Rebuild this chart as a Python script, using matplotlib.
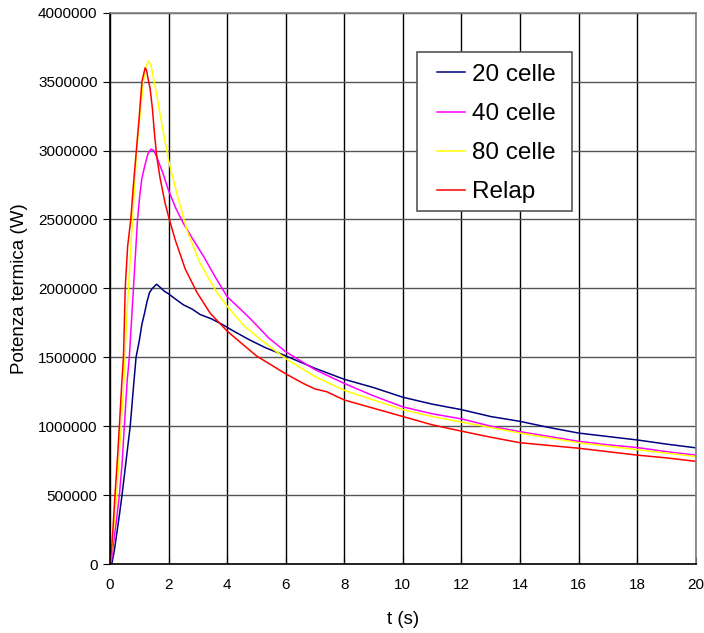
import numpy as np
import matplotlib.pyplot as plt
from matplotlib.patches import Rectangle
from matplotlib.ticker import FuncFormatter

plt.rcParams['font.family'] = ['Liberation Sans', 'DejaVu Sans']

# Potenza termica [MW] nel tempo [s] per le diverse discretizzazioni
t_20 = [0, 0.06, 0.15, 0.25, 0.33, 0.41, 0.5, 0.6, 0.69, 0.8, 0.89, 1.0, 1.09, 1.18,
        1.26, 1.35, 1.45, 1.59, 1.7, 1.85, 2.0, 2.25, 2.51, 2.8, 3.08, 3.45, 3.82,
        4.22, 4.73, 5.3, 6.0, 7.0, 8.0, 9.0, 10.0, 11.0, 12.0, 13.0, 14.0, 15.0,
        16.0, 17.0, 18.0, 19.0, 20.0]
p_20 = [0, 0.0, 0.10, 0.25, 0.37, 0.50, 0.66, 0.84, 1.00, 1.28, 1.50, 1.62, 1.74, 1.82,
        1.90, 1.97, 2.00, 2.03, 2.01, 1.98, 1.96, 1.92, 1.88, 1.85, 1.81, 1.78, 1.74,
        1.69, 1.63, 1.57, 1.51, 1.42, 1.34, 1.28, 1.21, 1.16, 1.12, 1.07, 1.035, 0.99,
        0.95, 0.925, 0.90, 0.87, 0.843]

t_40 = [0, 0.05, 0.15, 0.24, 0.32, 0.41, 0.49, 0.59, 0.66, 0.73, 0.8, 0.87, 0.94, 1.02,
        1.09, 1.2, 1.3, 1.4, 1.5, 1.6, 1.8, 2.0, 2.25, 2.51, 2.85, 3.2, 3.6, 4.0, 4.4,
        4.79, 5.42, 6.0, 7.0, 8.0, 9.0, 10.0, 11.0, 12.0, 13.0, 14.0, 15.0, 16.0, 17.0,
        18.0, 19.0, 20.0]
p_40 = [0, 0.03, 0.2, 0.35, 0.5, 0.72, 1.0, 1.34, 1.5, 1.75, 2.0, 2.25, 2.5, 2.68,
        2.8, 2.9, 2.98, 3.01, 3.0, 2.95, 2.84, 2.71, 2.58, 2.47, 2.35, 2.23, 2.08, 1.94,
        1.86, 1.78, 1.64, 1.54, 1.41, 1.31, 1.22, 1.14, 1.09, 1.053, 1.0, 0.96, 0.925,
        0.89, 0.865, 0.845, 0.815, 0.79]

t_80 = [0, 0.05, 0.13, 0.23, 0.3, 0.38, 0.48, 0.55, 0.63, 0.7, 0.77, 0.84, 0.91, 1.0,
        1.14, 1.22, 1.31, 1.4, 1.49, 1.6, 1.71, 1.85, 2.0, 2.28, 2.63, 3.08, 3.65, 4.0,
        4.57, 5.13, 6.0, 7.0, 8.0, 9.0, 10.0, 11.0, 12.0, 13.0, 14.0, 15.0, 16.0, 17.0,
        18.0, 19.0, 20.0]
p_80 = [0, 0.08, 0.28, 0.5, 0.75, 1.0, 1.34, 1.7, 2.0, 2.25, 2.5, 2.75, 3.0, 3.2,
        3.5, 3.6, 3.65, 3.62, 3.52, 3.4, 3.26, 3.1, 2.93, 2.69, 2.42, 2.18, 1.97, 1.87,
        1.73, 1.63, 1.49, 1.36, 1.26, 1.19, 1.12, 1.07, 1.03, 0.99, 0.95, 0.915, 0.88,
        0.855, 0.83, 0.805, 0.78]

t_relap = [0, 0.05, 0.1, 0.17, 0.25, 0.32, 0.41, 0.46, 0.52, 0.6, 0.71, 0.8, 0.9, 1.0,
           1.09, 1.2, 1.25, 1.3, 1.37, 1.45, 1.52, 1.6, 1.71, 1.88, 2.0, 2.23, 2.57,
           2.97, 3.42, 4.0, 4.33, 5.0, 6.0, 6.6, 7.0, 7.4, 7.7, 8.0, 9.0, 10.0, 11.0,
           12.0, 13.0, 14.0, 15.0, 16.0, 17.0, 18.0, 19.0, 20.0]
p_relap = [0, 0.1, 0.25, 0.5, 0.75, 1.0, 1.34, 1.5, 2.0, 2.3, 2.5, 2.75, 3.0, 3.25,
           3.5, 3.6, 3.58, 3.52, 3.45, 3.3, 3.12, 2.95, 2.8, 2.62, 2.52, 2.35, 2.14,
           1.97, 1.82, 1.69, 1.63, 1.51, 1.38, 1.31, 1.27, 1.25, 1.22, 1.19, 1.13, 1.07,
           1.01, 0.964, 0.92, 0.88, 0.86, 0.84, 0.815, 0.79, 0.77, 0.745]

series = [
    ("20 celle", t_20, p_20, "#000080"),
    ("40 celle", t_40, p_40, "#FF00FF"),
    ("80 celle", t_80, p_80, "#FFFF00"),
    ("Relap", t_relap, p_relap, "#FF0000"),
]

fig = plt.figure(figsize=(7.04, 6.33), dpi=100, facecolor="w")
ax = fig.add_axes([110 / 704, (633 - 564) / 633, 585.7 / 704, 551.3 / 633])

for name, t, p, col in series:
    ax.plot(t, np.array(p) * 1e6, color=col, lw=1.1, label=name)

ax.set_xlim(0, 20)
ax.set_ylim(0, 4000000)
ax.set_xticks(np.arange(0, 21, 2))
ax.set_yticks(np.arange(0, 4000001, 500000))
ax.yaxis.set_major_formatter(FuncFormatter(lambda v, pos: f"{int(v)}"))

# griglia: verticali nere, orizzontali grigio scuro
ax.xaxis.grid(True, color="black", lw=1)
ax.yaxis.grid(True, color="#555555", lw=1)
ax.set_axisbelow(True)

ax.spines["left"].set_color("black")
ax.spines["bottom"].set_color("black")
ax.spines["top"].set_color("#808080")
ax.spines["right"].set_color("#808080")
for s in ax.spines.values():
    s.set_linewidth(1.2)

ax.tick_params(axis="y", direction="out", length=5, labelsize=11, pad=4)
ax.tick_params(axis="x", direction="in", length=5, labelsize=11, pad=10)

ax.set_xlabel("t (s)", fontsize=13.5, labelpad=14)
ax.set_ylabel("Potenza termica (W)", fontsize=13.5, labelpad=7)

# riquadro della legenda disegnato a parte, legenda senza cornice
box = Rectangle((0.5242, 0.6409), 0.2651, 0.2873, transform=ax.transAxes,
                facecolor="white", edgecolor="#555555", lw=1.2, zorder=4)
ax.add_patch(box)
leg = ax.legend(loc="upper left", bbox_to_anchor=(0.5578, 0.907), borderaxespad=0,
                borderpad=0, fontsize=17.5, frameon=False, handlelength=1.17,
                handletextpad=0.3, labelspacing=0.7)
leg.set_zorder(5)

fig.savefig("out.png", dpi=100)
